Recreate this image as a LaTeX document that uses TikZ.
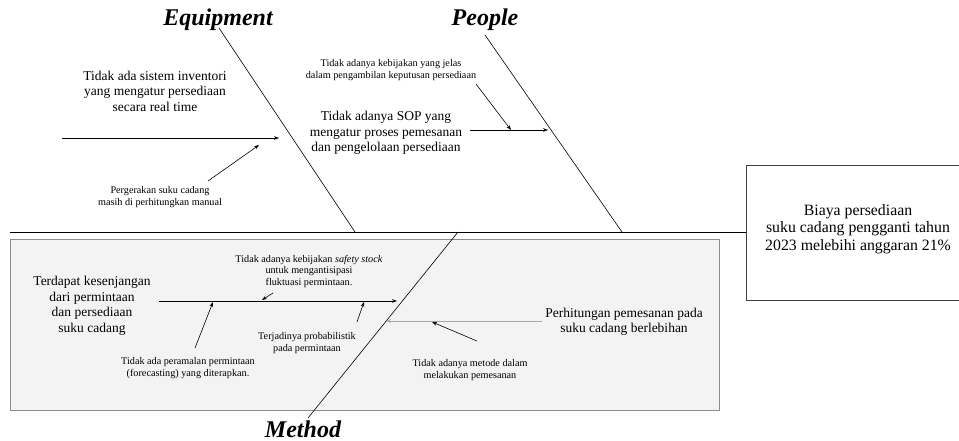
\documentclass[tikz,border=0pt]{standalone}
\usepackage{fontspec}
\setmainfont{Liberation Serif}
\usetikzlibrary{arrows.meta}
\definecolor{boxfill}{HTML}{F3F3F3}
\definecolor{boxline}{HTML}{8C8C8C}
\definecolor{greyline}{HTML}{A8A8A8}
\begin{document}
\begin{tikzpicture}[x=1pt,y=-1pt,
  bigtxt/.style={font=\fontsize{13.5}{15.5}\selectfont, align=center, inner sep=0pt},
  efftxt/.style={font=\fontsize{15.8}{17.5}\selectfont, align=center, inner sep=0pt},
  smalltxt/.style={font=\fontsize{10.2}{11.5}\selectfont, align=center, inner sep=0pt},
  cattxt/.style={font=\fontsize{24}{28}\selectfont\bfseries\itshape, inner sep=0pt},
  bone/.style={line width=0.6pt},
  spine/.style={line width=1pt},
  arr/.style={-{Stealth[length=5pt,width=3.6pt]}, line width=0.6pt},
]
\useasboundingbox (0,0) rectangle (959,441);

% Method background box
\node[draw=boxline, fill=boxfill, line width=0.7pt, minimum width=709pt, minimum height=171pt, inner sep=0pt, anchor=north west] (mbox) at (10,239) {};

% Effect box
\node[draw=black!75, line width=0.7pt, minimum width=220pt, minimum height=135pt, inner sep=0pt, anchor=north west] (ebox) at (746,165) {};
\node[efftxt] (effect) at (858,229) {Biaya persediaan\\suku cadang pengganti tahun\\2023 melebihi anggaran 21\%};

% spine
\coordinate (spL) at (10,232);
\draw[spine] (spL) -- (ebox.west |- spL);

% category labels
\node[cattxt] (equip) at (218,20) {Equipment};
\node[cattxt] (people) at (485,20) {People};
\node[cattxt] (method) at (303,429) {Method};

% bones
\coordinate (eqTop) at (219,28);
\coordinate (eqBot) at (355,232);
\coordinate (peTop) at (485,35);
\coordinate (peBot) at (622,232);
\coordinate (meTop) at (458,232);
\coordinate (meBot) at (308,418);
\draw[bone] (eqTop) -- (eqBot);
\draw[bone] (peTop) -- (peBot);
\draw[bone] (meTop) -- (meBot);

% ---------- Equipment ----------
\node[bigtxt] (eq1) at (155,91) {Tidak ada sistem inventori\\yang mengatur persediaan\\secara real time};
\coordinate (eqA1) at (62,138);
\coordinate (eqA2) at (279,138);
\draw[arr] (eqA1) -- (eqA2);
\node[smalltxt] (eq2) at (160,197) {Pergerakan suku cadang\\masih di perhitungkan manual};
\coordinate (eqB1) at (208,181);
\coordinate (eqB2) at (259,145);
\draw[arr] (eqB1) -- (eqB2);

% ---------- People ----------
\node[smalltxt] (pe2) at (391,70) {Tidak adanya kebijakan yang jelas\\dalam pengambilan keputusan persediaan};
\node[bigtxt] (pe1) at (386,133) {Tidak adanya SOP yang\\mengatur proses pemesanan\\dan pengelolaan persediaan};
\coordinate (peA1) at (470,130);
\coordinate (peA2) at (548,130);
\draw[arr] (peA1) -- (peA2);
\coordinate (peB1) at (476,84);
\coordinate (peB2) at (511,130);
\draw[arr] (peB1) -- (peB2);

% ---------- Method ----------
\node[bigtxt] (m1) at (92,306) {Terdapat kesenjangan\\dari permintaan\\dan persediaan\\suku cadang};
\coordinate (mA1) at (159,301);
\coordinate (mA2) at (397,301);
\draw[arr] (mA1) -- (mA2);

\node[smalltxt] (m2) at (309,271) {Tidak adanya kebijakan \textit{safety stock}\\untuk mengantisipasi\\fluktuasi permintaan.};
\coordinate (mB1) at (273,293);
\coordinate (mB2) at (262,300);
\draw[arr] (mB1) -- (mB2);

\node[smalltxt] (m3) at (188,368) {Tidak ada peramalan permintaan\\(forecasting) yang diterapkan.};
\coordinate (mC1) at (195,348);
\coordinate (mC2) at (213,302);
\draw[arr] (mC1) -- (mC2);

\node[smalltxt] (m4) at (307,343) {Terjadinya probabilistik\\pada permintaan};
\coordinate (mD1) at (357,322);
\coordinate (mD2) at (364,302);
\draw[arr] (mD1) -- (mD2);

\node[bigtxt] (m5) at (624,322) {Perhitungan pemesanan pada\\suku cadang berlebihan};
\coordinate (mE1) at (542,321);
\coordinate (mE2) at (386,321);
\draw[arr, draw=greyline] (mE1) -- (mE2);

\node[smalltxt] (m6) at (470,370) {Tidak adanya metode dalam\\melakukan pemesanan};
\coordinate (mF1) at (477,341);
\coordinate (mF2) at (432,322);
\draw[arr] (mF1) -- (mF2);
\end{tikzpicture}
\end{document}
